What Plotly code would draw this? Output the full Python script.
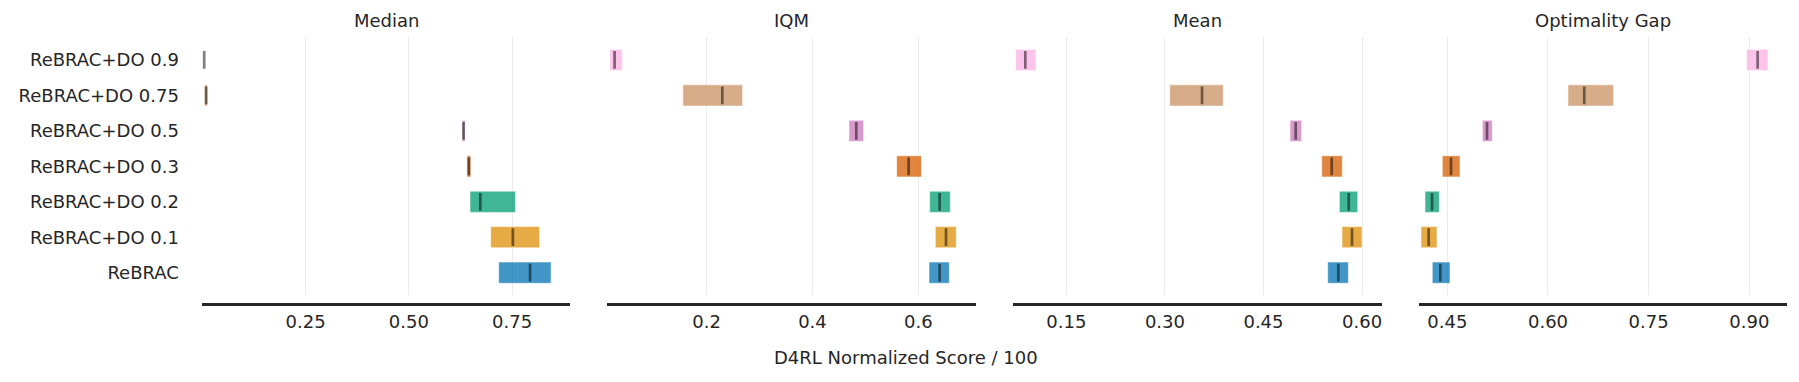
import plotly.graph_objects as go

# ---------------- data ----------------
algorithms = ["ReBRAC", "ReBRAC+DO 0.1", "ReBRAC+DO 0.2", "ReBRAC+DO 0.3",
              "ReBRAC+DO 0.5", "ReBRAC+DO 0.75", "ReBRAC+DO 0.9"]
colors = ["#0173b2", "#de8f05", "#029e73", "#d55e00", "#cc78bc", "#ca9161", "#fbafe4"]

metrics = ["Median", "IQM", "Mean", "Optimality Gap"]

median_lower = [0.7176, 0.6981, 0.6481, 0.6407, 0.6296, 0.0056, 0.0046]
median_upper = [0.8444, 0.8167, 0.7583, 0.6500, 0.6361, 0.0120, 0.0046]
median_point = [0.7935, 0.7519, 0.6731, 0.6454, 0.6324, 0.0093, 0.0046]

iqm_lower = [0.6202, 0.6321, 0.6214, 0.5590, 0.4690, 0.1550, 0.0173]
iqm_upper = [0.6586, 0.6718, 0.6605, 0.6060, 0.4967, 0.2680, 0.0406]
iqm_point = [0.6403, 0.6523, 0.6403, 0.5817, 0.4828, 0.2296, 0.0261]

mean_lower = [0.5477, 0.5695, 0.5655, 0.5386, 0.4904, 0.3073, 0.0729]
mean_upper = [0.5792, 0.6000, 0.5934, 0.5700, 0.5081, 0.3889, 0.1038]
mean_point = [0.5639, 0.5847, 0.5797, 0.5538, 0.4990, 0.3565, 0.0876]

gap_lower = [0.4276, 0.4108, 0.4167, 0.4425, 0.5022, 0.6298, 0.8960]
gap_upper = [0.4540, 0.4346, 0.4381, 0.4689, 0.5170, 0.6978, 0.9278]
gap_point = [0.4396, 0.4222, 0.4272, 0.4555, 0.5091, 0.6541, 0.9124]

x_ranges = [[-0.001, 0.8907], [0.0123, 0.709], [0.0693, 0.6299], [0.4078, 0.9566]]
x_tickvals = [[0.25, 0.50, 0.75], [0.2, 0.4, 0.6], [0.15, 0.30, 0.45, 0.60], [0.45, 0.60, 0.75, 0.90]]
x_ticktext = [["0.25", "0.50", "0.75"], ["0.2", "0.4", "0.6"],
              ["0.15", "0.30", "0.45", "0.60"], ["0.45", "0.60", "0.75", "0.90"]]
x_title = "D4RL Normalized Score / 100"

series = [(median_lower, median_upper, median_point),
          (iqm_lower, iqm_upper, iqm_point),
          (mean_lower, mean_upper, mean_point),
          (gap_lower, gap_upper, gap_point)]

# ---------------- layout geometry (window pixels) ----------------
WIN_W, WIN_H = 1799, 382
OFF = 8  # default page body margin
W, H = WIN_W - 2 * OFF, WIN_H - 2 * OFF

panel_px = [(201.9, 570.2), (607.3, 976.0), (1013.3, 1381.7), (1419.0, 1787.3)]
plot_top, plot_bottom, axis_line_y = 37.3, 295.0, 303.7

TEXT = "#262626"
FONT = "DejaVu Sans"


def fx(px):
    return (px - OFF) / W


def fy(py):
    return (H - (py - OFF)) / H


def rgba(hexc, a):
    h = hexc.lstrip("#")
    r, g, b = int(h[0:2], 16), int(h[2:4], 16), int(h[4:6], 16)
    return f"rgba({r},{g},{b},{a})"


ypos = list(range(len(algorithms)))

fig = go.Figure()
layout = dict(
    width=W, height=H,
    margin=dict(l=0, r=0, t=0, b=0),
    paper_bgcolor="white", plot_bgcolor="white",
    showlegend=False,
    font=dict(family=FONT, size=18, color=TEXT),
    annotations=[],
)

for i, (lo, up, pe) in enumerate(series):
    xa = "x" if i == 0 else f"x{i+1}"
    ya = "y" if i == 0 else f"y{i+1}"
    widths = [u - l for l, u in zip(lo, up)]
    fig.add_trace(go.Bar(
        x=widths, base=lo, y=ypos, orientation="h", width=0.6,
        marker=dict(color=[rgba(c, 0.75) for c in colors],
                    line=dict(color="rgba(255,255,255,0.55)", width=1)),
        xaxis=xa, yaxis=ya, hoverinfo="skip",
    ))
    lx, ly = [], []
    for j, p in enumerate(pe):
        lx += [p, p, None]
        ly += [j - 0.25, j + 0.25, None]
    fig.add_trace(go.Scatter(
        x=lx, y=ly, mode="lines", line=dict(color="rgba(0,0,0,0.5)", width=2.7),
        xaxis=xa, yaxis=ya, hoverinfo="skip",
    ))

    x0, x1 = panel_px[i]
    xkey = "xaxis" if i == 0 else f"xaxis{i+1}"
    ykey = "yaxis" if i == 0 else f"yaxis{i+1}"
    layout[xkey] = dict(
        domain=[fx(x0), fx(x1)], range=x_ranges[i],
        tickvals=x_tickvals[i], ticktext=x_ticktext[i],
        showgrid=True, gridcolor="#ebebeb", gridwidth=1.3,
        zeroline=False, showline=True, linecolor=TEXT, linewidth=3,
        ticks="", anchor="free", position=fy(axis_line_y),
        tickfont=dict(size=18, color=TEXT, family=FONT),
        ticklabelstandoff=1, automargin=False,
    )
    layout[ykey] = dict(
        domain=[fy(plot_bottom), fy(plot_top)],
        range=[-0.63, 6.64],
        tickvals=ypos, ticktext=algorithms,
        showticklabels=(i == 0),
        showgrid=False, zeroline=False, showline=False, ticks="",
        anchor=xa, automargin=False,
        ticklabelstandoff=22,
        tickfont=dict(size=18, color=TEXT, family=FONT),
    )
    layout["annotations"].append(dict(
        text=metrics[i], x=fx((x0 + x1) / 2), y=fy(20),
        xref="paper", yref="paper", showarrow=False,
        xanchor="center", yanchor="middle",
        font=dict(size=18, color=TEXT, family=FONT),
    ))

layout["annotations"].append(dict(
    text=x_title, x=fx(906), y=fy(357.7), xref="paper", yref="paper",
    showarrow=False, xanchor="center", yanchor="middle",
    font=dict(size=18, color=TEXT, family=FONT),
))

fig.update_layout(**layout)
fig.write_html("out.html")
